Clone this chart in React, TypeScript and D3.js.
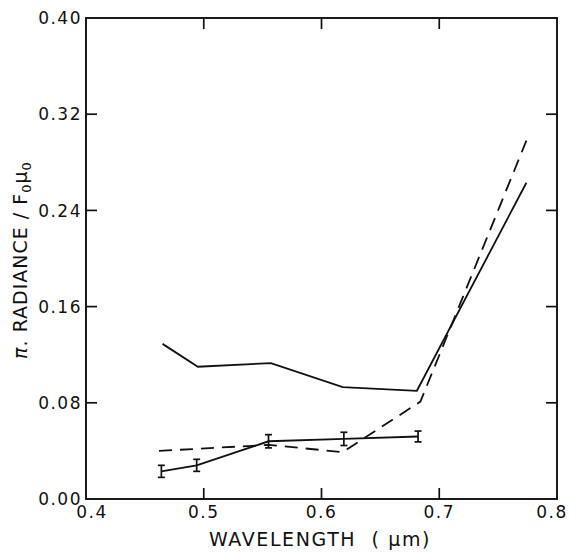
import React from "react";
import * as d3 from "d3";

const xTicks = [0.4, 0.5, 0.6, 0.7, 0.8];
const yTicks = [0.0, 0.08, 0.16, 0.24, 0.32, 0.4];

const upperX = [0.465, 0.495, 0.557, 0.618, 0.681, 0.774];
const upperY = [0.129, 0.11, 0.113, 0.093, 0.09, 0.263];

const errX = [0.464, 0.494, 0.555, 0.619, 0.682];
const errY = [0.023, 0.028, 0.048, 0.05, 0.052];
const errE = [0.005, 0.005, 0.0055, 0.0055, 0.0045];

const dashX = [0.462, 0.555, 0.618, 0.684, 0.774];
const dashY = [0.04, 0.045, 0.039, 0.081, 0.298];

const W = 569;
const H = 552;
const L = 86, R = 557, T = 18, B = 499;

export default function App() {
  const x = d3.scaleLinear().domain([0.4, 0.8]).range([L, R]);
  const y = d3.scaleLinear().domain([0, 0.4]).range([B, T]);
  const line = d3
    .line<[number, number]>()
    .x((d) => x(d[0]))
    .y((d) => y(d[1]));
  const upper = upperX.map((v, i) => [v, upperY[i]] as [number, number]);
  const errs = errX.map((v, i) => [v, errY[i]] as [number, number]);
  const dash = dashX.map((v, i) => [v, dashY[i]] as [number, number]);
  const font = "'DejaVu Sans', 'Liberation Sans', sans-serif";
  const tl = 11;
  return (
    <svg
      width={W}
      height={H}
      style={{ position: "absolute", left: 0, top: 0, background: "#fff" }}
    >
      <rect x={0} y={0} width={W} height={H} fill="#fff" />
      <rect x={L} y={T} width={R - L} height={B - T} fill="none" stroke="#111" strokeWidth={1.9} />
      {xTicks.slice(1, -1).map((t) => (
        <g key={"xt" + t}>
          <line x1={x(t)} x2={x(t)} y1={B} y2={B - tl} stroke="#111" strokeWidth={1.7} />
          <line x1={x(t)} x2={x(t)} y1={T} y2={T + tl} stroke="#111" strokeWidth={1.7} />
        </g>
      ))}
      {yTicks.slice(1, -1).map((t) => (
        <g key={"yt" + t}>
          <line x1={L} x2={L + tl} y1={y(t)} y2={y(t)} stroke="#111" strokeWidth={1.7} />
          <line x1={R} x2={R - tl} y1={y(t)} y2={y(t)} stroke="#111" strokeWidth={1.7} />
        </g>
      ))}
      {xTicks.map((t, i) => (
        <text
          key={"xl" + t}
          x={x(t) + (i === 0 ? 6 : i === xTicks.length - 1 ? -5 : 0)}
          y={518}
          textAnchor="middle"
          fontFamily={font}
          fontSize={17}
          letterSpacing={1.5}
          fill="#111"
        >
          {t.toFixed(1)}
        </text>
      ))}
      {yTicks.map((t) => (
        <text
          key={"yl" + t}
          x={82}
          y={y(t)}
          dy="0.36em"
          textAnchor="end"
          fontFamily={font}
          fontSize={17}
          letterSpacing={1.5}
          fill="#111"
        >
          {t.toFixed(2)}
        </text>
      ))}
      <text
        x={320}
        y={546}
        textAnchor="middle"
        fontFamily={font}
        fontSize={19}
        letterSpacing={1.6}
        fill="#111"
        xmlSpace="preserve"
      >
        {"WAVELENGTH  ( μm)"}
      </text>
      <text
        transform="translate(27,260) rotate(-90)"
        textAnchor="middle"
        fontFamily={font}
        fontSize={19}
        letterSpacing={1}
        fill="#111"
      >
        <tspan fontStyle="italic">π</tspan>. RADIANCE / F
        <tspan fontSize={13} dy={4}>0</tspan>
        <tspan dy={-4}>μ</tspan>
        <tspan fontSize={13} dy={4}>0</tspan>
      </text>
      <path d={line(upper) || ""} fill="none" stroke="#111" strokeWidth={1.8} />
      <path d={line(errs) || ""} fill="none" stroke="#111" strokeWidth={1.9} />
      <path d={line(dash) || ""} fill="none" stroke="#111" strokeWidth={1.8} strokeDasharray="13,8" />
      {errs.map((d, i) => (
        <g key={"e" + i} stroke="#111" strokeWidth={1.7}>
          <line x1={x(d[0])} x2={x(d[0])} y1={y(d[1] - errE[i])} y2={y(d[1] + errE[i])} />
          <line x1={x(d[0]) - 3.5} x2={x(d[0]) + 3.5} y1={y(d[1] - errE[i])} y2={y(d[1] - errE[i])} />
          <line x1={x(d[0]) - 3.5} x2={x(d[0]) + 3.5} y1={y(d[1] + errE[i])} y2={y(d[1] + errE[i])} />
        </g>
      ))}
    </svg>
  );
}
